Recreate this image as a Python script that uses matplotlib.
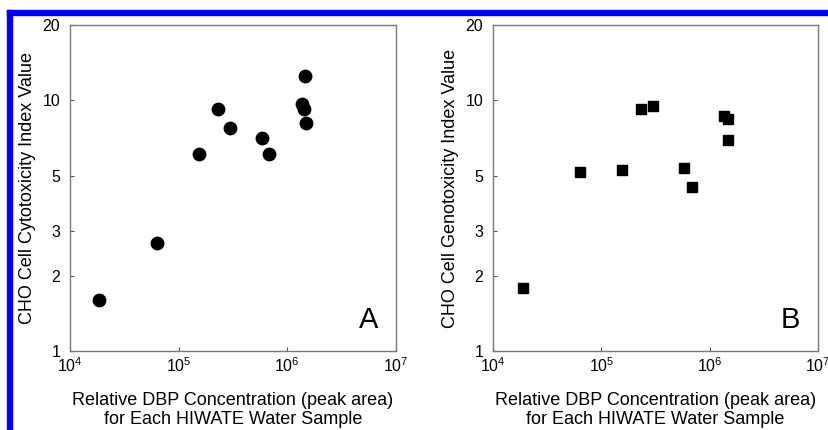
import matplotlib
matplotlib.use("Agg")
import matplotlib.pyplot as plt
from matplotlib.patches import Rectangle
from matplotlib.ticker import FixedLocator, FixedFormatter, NullLocator

plt.rcParams['font.family'] = ['Liberation Sans', 'DejaVu Sans']
plt.rcParams['mathtext.fontset'] = 'custom'
plt.rcParams['mathtext.rm'] = 'Liberation Sans'

# DBP peak area vs. CHO cytotoxicity index (panel A)
cyto_x = [1.85e4, 6.27e4, 1.53e5, 2.28e5, 2.96e5, 5.84e5, 6.73e5, 1.45e6, 1.36e6, 1.42e6, 1.49e6]
cyto_y = [1.60, 2.69, 6.09, 9.24, 7.76, 7.08, 6.09, 12.5, 9.65, 9.24, 8.15]

# DBP peak area vs. CHO genotoxicity index (panel B)
geno_x = [1.88e4, 6.36e4, 1.54e5, 2.33e5, 3.02e5, 5.80e5, 6.83e5, 1.37e6, 1.49e6, 1.49e6]
geno_y = [1.78, 5.18, 5.26, 9.24, 9.47, 5.39, 4.51, 8.64, 8.43, 6.95]

x_ticks = [1e4, 1e5, 1e6, 1e7]
x_tick_labels = [r'$\mathregular{10^{4}}$', r'$\mathregular{10^{5}}$',
                 r'$\mathregular{10^{6}}$', r'$\mathregular{10^{7}}$']
y_ticks = [1, 2, 3, 5, 10, 20]
y_tick_labels = ['1', '2', '3', '5', '10', '20']

xlabel = 'Relative DBP Concentration (peak area)\nfor Each HIWATE Water Sample'

fig = plt.figure(figsize=(8.29, 4.30), dpi=100)
ax_a = fig.add_axes([0.0844, 0.1837, 0.3932, 0.758])
ax_b = fig.add_axes([0.5947, 0.1837, 0.3920, 0.758])


def style_axes(ax, ylabel, letter):
    ax.set_xscale('log')
    ax.set_yscale('log')
    ax.set_xlim(1e4, 1e7)
    ax.set_ylim(1, 20)
    ax.xaxis.set_major_locator(FixedLocator(x_ticks))
    ax.xaxis.set_major_formatter(FixedFormatter(x_tick_labels))
    ax.xaxis.set_minor_locator(NullLocator())
    ax.yaxis.set_major_locator(FixedLocator(y_ticks))
    ax.yaxis.set_major_formatter(FixedFormatter(y_tick_labels))
    ax.yaxis.set_minor_locator(NullLocator())
    ax.tick_params(direction='in', length=3, width=0.8, color='#555555',
                   labelsize=11.5)
    ax.tick_params(axis='x', pad=4)
    ax.tick_params(axis='y', pad=7)
    for s in ax.spines.values():
        s.set_color('#7a7a7a')
        s.set_linewidth(1.0)
    ax.set_xlabel(xlabel, fontsize=13, labelpad=12, linespacing=1.15)
    ax.set_ylabel(ylabel, fontsize=13, labelpad=5)
    ax.text(0.915, 0.095, letter, transform=ax.transAxes, fontsize=21,
            ha='center', va='center')


ax_a.scatter(cyto_x, cyto_y, s=80, marker='o', color='black', zorder=3)
style_axes(ax_a, 'CHO Cell Cytotoxicity Index Value', 'A')

ax_b.scatter(geno_x, geno_y, s=55, marker='s', color='black', zorder=3)
style_axes(ax_b, 'CHO Cell Genotoxicity Index Value', 'B')

# blue frame along the top and left edges
W, H = 829, 430
fig.patches.append(Rectangle((7 / W, (H - 15) / H), 1 - 7 / W, 5 / H,
                             transform=fig.transFigure, color='#0000ff', zorder=0))
fig.patches.append(Rectangle((7 / W, 0), 5 / W, (H - 10) / H,
                             transform=fig.transFigure, color='#0000ff', zorder=0))

fig.savefig('out.png', dpi=100)
